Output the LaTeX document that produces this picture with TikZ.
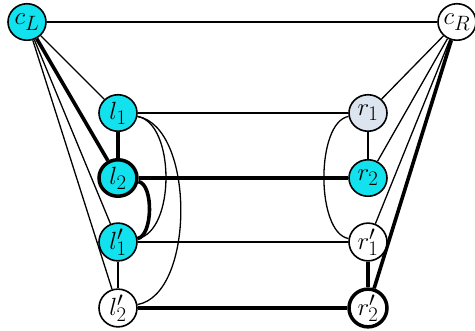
\documentclass[tikz,border=0pt]{standalone}
\usetikzlibrary{shapes.geometric}
\definecolor{cyanfill}{RGB}{18,226,238}
\definecolor{palefill}{RGB}{220,228,240}
\pgfdeclarelayer{background}
\pgfsetlayers{background,main}
\begin{document}
\begin{tikzpicture}[x=1pt,y=1pt,
  vtx/.style={ellipse,draw=black,line width=1.6pt,minimum width=38pt,minimum height=36.5pt,inner sep=0pt,font=\fontsize{30}{34}\selectfont},
  heavyvtx/.style={vtx,line width=3.5pt},
  thin edge/.style={line width=1.3pt},
  thick edge/.style={line width=3.6pt}]
\useasboundingbox (0,0) rectangle (475,331);
% nodes
\node[vtx,fill=cyanfill] (cL) at (27,309) {$c_L$};
\node[vtx,fill=white] (cR) at (457,309) {$c_R$};
\node[vtx,fill=cyanfill] (l1) at (118,218) {$l_1$};
\node[heavyvtx,fill=cyanfill] (l2) at (118,153) {$l_2$};
\node[vtx,fill=cyanfill] (l1p) at (118,89) {$l'_1$};
\node[vtx,fill=white] (l2p) at (118,23) {$l'_2$};
\node[vtx,fill=palefill] (r1) at (368,218) {$r_1$};
\node[vtx,fill=cyanfill] (r2) at (368,153) {$r_2$};
\node[vtx,fill=white] (r1p) at (368,89) {$r'_1$};
\node[heavyvtx,fill=white] (r2p) at (368,23) {$r'_2$};
% edges
\begin{pgfonlayer}{background}
\draw[thin edge] (cL) -- (cR);
\draw[thin edge] (cL) -- (l1);
\draw[thick edge] (cL) -- (l2);
\draw[thin edge] (cL) -- (l1p);
\draw[thin edge] (cL) -- (l2p);
\draw[thin edge] (cR) -- (r1);
\draw[thin edge] (cR) -- (r2);
\draw[thin edge] (cR) -- (r1p);
\draw[thick edge] (cR) -- (r2p);
\draw[thin edge] (l1) -- (r1);
\draw[thick edge] (l2) -- (r2);
\draw[thin edge] (l1p) -- (r1p);
\draw[thick edge] (l2p) -- (r2p);
\draw[thick edge] (l1) -- (l2);
\draw[thin edge] (l1p) -- (l2p);
\draw[thin edge] (r1) -- (r2);
\draw[thick edge] (r1p) -- (r2p);
\draw[thick edge] (l2) to[out=-10,in=10,looseness=0.7] (l1p);
\draw[thin edge] (l1) to[out=-10,in=10,looseness=0.81] (l1p);
\draw[thin edge] (l1) to[out=-10,in=10,looseness=0.8] (l2p);
\draw[thin edge] (r1) to[out=190,in=170,looseness=0.7] (r1p);
\end{pgfonlayer}
\end{tikzpicture}
\end{document}
